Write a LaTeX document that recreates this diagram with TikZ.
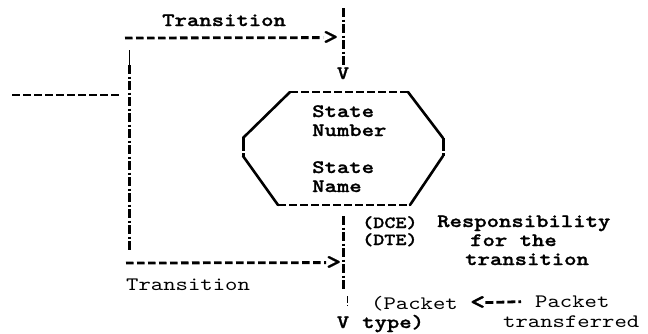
\documentclass[tikz,border=0pt]{standalone}
\usepackage{fontspec}
\setmonofont[Extension=.otf,UprightFont=lmmono10-regular,BoldFont=lmmonolt10-bold,
  BoldFeatures={FakeBold=1.2},FakeStretch=1.24]{lmmono10-regular}
\usetikzlibrary{calc}

\begin{document}
\begin{tikzpicture}[x=1pt,y=-1pt,
  every node/.style={inner sep=0pt,anchor=base west,font=\fontsize{19}{20}\selectfont\ttfamily},
  heavy/.style={font=\fontsize{19}{20}\selectfont\ttfamily\bfseries},
  tip/.style={font=\fontsize{23}{20}\selectfont\ttfamily\bfseries},
  dashline/.style={line width=2.8pt,dash pattern=on 7.5pt off 3.5pt},
  bangline/.style={line width=3pt,dash pattern=on 9pt off 2.5pt on 2.5pt off 2pt},
  bangthin/.style={line width=1pt,dash pattern=on 7pt off 2pt on 1.2pt off 20pt},
  side/.style={line width=2.6pt,line cap=round}]
  \useasboundingbox (0,0) rectangle (648,333);
  % texts and typed arrow heads
  \path (162,26) node[heavy] (trtop) {Transition}
  (323,44) node[tip] (gt1) {>} (326,269) node[tip] (gt2) {>}
  (343,79) node[heavy,anchor=base] (v1) {V} (343,328) node[heavy,anchor=base] (v2) {V}
  (126,290) node (trlow) {Transition}
  (312,117) node[heavy] (sn1) {State} (312,136) node[heavy] (sn2) {Number}
  (312,173) node[heavy] (sm1) {State} (312,192) node[heavy] (sm2) {Name}
  (362,228) node[font=\fontsize{17}{16}\selectfont\ttfamily\bfseries] (dce) {(DCE)}
  (362,245) node[font=\fontsize{17}{16}\selectfont\ttfamily\bfseries] (dte) {(DTE)}
  (437,227) node[heavy] (resp1) {Responsibility}
  (470,246) node[heavy] (resp2) {for the}
  (465,265) node[heavy] (resp3) {transition}
  (371,309) node (ptype1) {(Packet} (362,328) node[heavy] (ptype2) {type)}
  (470,309) node[tip] (lt) {<}
  (535,307) node (pk1) {Packet} (503,327) node (pk2) {transferred};
  % loose ends
  \coordinate (topl) at (125,38);
  \coordinate (topr) at (343,8);
  \coordinate (lcol0) at (129,50);
  \coordinate (lcol1) at (129,65);
  \coordinate (lcol2) at (129,250);
  \coordinate (inl) at (12,95);
  \coordinate (inr) at (121,95);
  \coordinate (lowl) at (126,263);
  \coordinate (hb) at (343,216);
  \coordinate (hm) at (343,290);
  % transitions
  \draw[dashline] (topl) -- (gt1.west);
  \draw[bangline] (topr) -- (v1.north);
  \draw[dashline] (inl) -- (inr);
  \draw[line width=0.8pt] (lcol0) -- (lcol1);
  \draw[bangline] (lcol1) -- (lcol2);
  \draw[dashline] (lowl) -- (gt2.west);
  \draw[bangline] (hb) -- (hm);
  \draw[bangthin] ($(hm)+(4,6)$) -- ($(v2.north)+(4,0)$);
  \draw[dashline,dash pattern=on 8pt off 3pt,shorten >=14pt] (lt.east) -- (pk1.west);
  % state box
  \coordinate (h1) at (290,92);  \coordinate (h2) at (408,92);
  \coordinate (h3) at (443,138); \coordinate (h4) at (443,156);
  \coordinate (h5) at (410,205); \coordinate (h6) at (278,205);
  \coordinate (h7) at (243,156); \coordinate (h8) at (243,138);
  \draw[dashline] (h1) -- (h2);
  \draw[dashline] (h6) -- (h5);
  \draw[side] (h2) -- (h3) (h4) -- (h5) (h6) -- (h7) (h8) -- (h1);
  \draw[bangline,dash pattern=on 13pt off 2pt on 3pt off 10pt] (h3) -- (h4) (h8) -- (h7);
\end{tikzpicture}
\end{document}
